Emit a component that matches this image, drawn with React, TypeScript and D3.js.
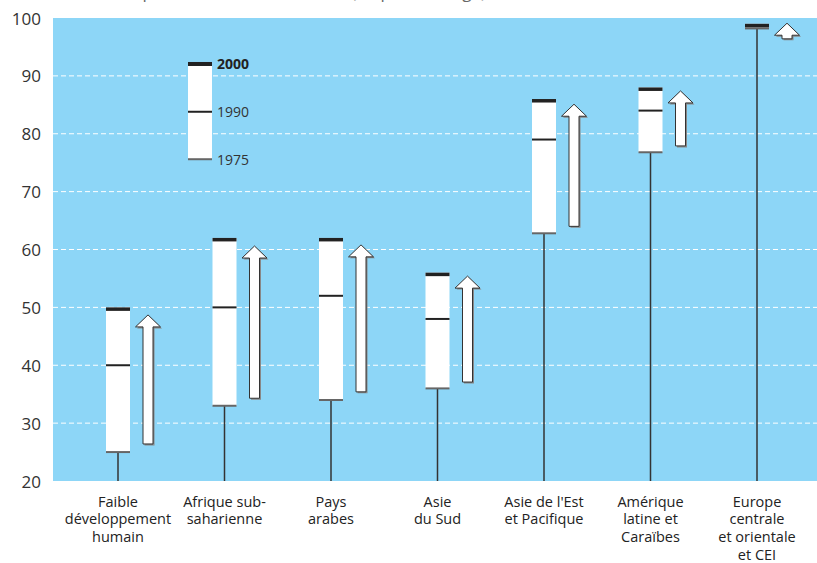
import * as d3 from "d3";

const categories = [
  ["Faible", "développement", "humain"],
  ["Afrique sub-", "saharienne"],
  ["Pays", "arabes"],
  ["Asie", "du Sud"],
  ["Asie de l'Est", "et Pacifique"],
  ["Amérique", "latine et", "Caraïbes"],
  ["Europe", "centrale", "et orientale", "et CEI"],
];
const v1975 = [25, 33, 34, 36, 62.8, 76.8, 98.2];
const v1990 = [40, 50, 52, 48, 79, 84, 98.6];
const v2000 = [50, 62, 62, 56, 86, 88, 99];
const arrowFrom = [26.4, 34.3, 35.4, 37.1, 64, 77.9, 96.4];
const arrowTo = [48.7, 60.6, 60.8, 55.4, 85.1, 87.4, 99.1];
const yTicks = [20, 30, 40, 50, 60, 70, 80, 90, 100];
const legend = { y2000: 92.4, y1990: 83.8, y1975: 75.6 };

const W = 817;
const H = 563;
const font = "'Open Sans', 'Noto Sans', sans-serif";

export default function App() {
  const left = 53;
  const y = d3.scaleLinear().domain([20, 100]).range([481, 18]);
  const keys = categories.map((_, i) => String(i));
  const x = d3.scalePoint<string>().domain(keys).range([118, 757]);
  const boxW = 24;
  const shaftW = 10;
  const headW = 25;
  const headH = 12;

  const arrowPath = (cx: number, yTop: number, yBot: number) => {
    const hb = yTop + headH;
    return `M${cx},${yTop} L${cx + headW / 2},${hb} L${cx + shaftW / 2},${hb} L${cx + shaftW / 2},${yBot} L${cx - shaftW / 2},${yBot} L${cx - shaftW / 2},${hb} L${cx - headW / 2},${hb} Z`;
  };

  const lx = 200;

  return (
    <svg
      width={W}
      height={H}
      style={{ position: "absolute", left: 0, top: 0, background: "#fff" }}
      fontFamily={font}
    >
      <text x={486} y={-2} textAnchor="end" fontSize={17} fill="#666">
        Taux d'alphabétisation des adultes (en pourcentage)
      </text>
      <rect x={left} y={y(100)} width={W - left} height={y(20) - y(100)} fill="#8dd6f7" />
      {yTicks.slice(1, -1).map((t) => (
        <line
          key={t}
          x1={left}
          x2={W}
          y1={y(t)}
          y2={y(t)}
          stroke="#fff"
          strokeWidth={1}
          strokeDasharray="5,3"
        />
      ))}
      {yTicks.map((t) => (
        <text
          key={t}
          x={41}
          y={y(t)}
          textAnchor="end"
          dominantBaseline="central"
          fontSize={17}
          fill="#333"
        >
          {t}
        </text>
      ))}
      {keys.map((k, i) => {
        const cx = x(k)!;
        const ax = cx + 30;
        return (
          <g key={k}>
            <line x1={cx} x2={cx} y1={y(20)} y2={y(v1975[i])} stroke="#333" strokeWidth={1.5} />
            <rect
              x={cx - boxW / 2}
              y={y(v2000[i])}
              width={boxW}
              height={y(v1975[i]) - y(v2000[i])}
              fill="#fff"
            />
            <line x1={cx - boxW / 2} x2={cx + boxW / 2} y1={y(v1975[i])} y2={y(v1975[i])} stroke="#666" strokeWidth={2} />
            <line x1={cx - boxW / 2} x2={cx + boxW / 2} y1={y(v1990[i])} y2={y(v1990[i])} stroke="#222" strokeWidth={2} />
            <rect x={cx - boxW / 2} y={y(v2000[i])} width={boxW} height={3.5} fill="#222" />
            <path
              d={arrowPath(ax + 1.5, y(arrowTo[i]) + 1.5, y(arrowFrom[i]) + 1.5)}
              fill="#888"
            />
            <path
              d={arrowPath(ax, y(arrowTo[i]), y(arrowFrom[i]))}
              fill="#fff"
              stroke="#333"
              strokeWidth={1}
            />
            {categories[i].map((line, j) => (
              <text
                key={j}
                x={cx}
                y={501 + j * 17.8}
                textAnchor="middle"
                dominantBaseline="central"
                fontSize={14.5}
                fill="#222"
              >
                {line}
              </text>
            ))}
          </g>
        );
      })}
      {/* legend */}
      <g>
        <rect
          x={lx - boxW / 2}
          y={y(legend.y2000)}
          width={boxW}
          height={y(legend.y1975) - y(legend.y2000)}
          fill="#fff"
        />
        <rect x={lx - boxW / 2} y={y(legend.y2000)} width={boxW} height={4} fill="#222" />
        <line x1={lx - boxW / 2} x2={lx + boxW / 2} y1={y(legend.y1990)} y2={y(legend.y1990)} stroke="#222" strokeWidth={2} />
        <line x1={lx - boxW / 2} x2={lx + boxW / 2} y1={y(legend.y1975)} y2={y(legend.y1975)} stroke="#666" strokeWidth={2} />
        <text x={217} y={y(legend.y2000) + 2} dominantBaseline="central" fontSize={14} fontWeight="bold" fill="#222">
          2000
        </text>
        <text x={217} y={y(legend.y1990)} dominantBaseline="central" fontSize={14} fill="#333">
          1990
        </text>
        <text x={217} y={y(legend.y1975)} dominantBaseline="central" fontSize={14} fill="#333">
          1975
        </text>
      </g>
    </svg>
  );
}
